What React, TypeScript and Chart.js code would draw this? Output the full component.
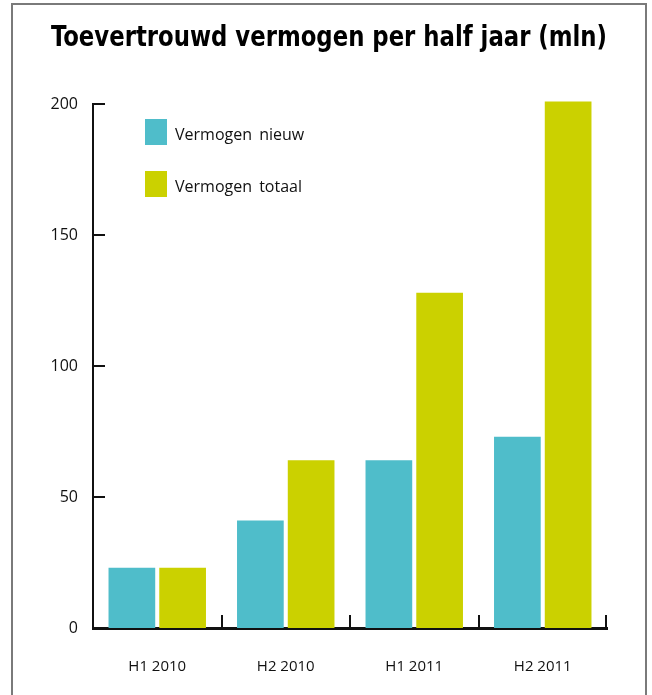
import React, { useEffect, useRef } from "react";
import { Chart, registerables } from "chart.js";

Chart.register(...registerables);

const categories = ["H1 2010", "H2 2010", "H1 2011", "H2 2011"];
const seriesNames = ["Vermogen nieuw", "Vermogen totaal"];
const vermogenNieuw = [23, 41, 64, 73];
const vermogenTotaal = [23, 64, 128, 201];
const yMin = 0;
const yMax = 200;
const yStep = 50;
const titleText = "Toevertrouwd vermogen per half jaar (mln)";

const colors = ["#4fbdca", "#cbd100"];

const axisDecor = {
  id: "axisDecor",
  afterDatasetsDraw(chart: any) {
    const { ctx, chartArea } = chart;
    const y = chart.scales.y;
    ctx.save();
    ctx.strokeStyle = "#111";
    ctx.lineWidth = 2;
    y.ticks.forEach((t: any) => {
      if (t.value === yMin) return;
      const py = Math.round(y.getPixelForValue(t.value));
      ctx.beginPath();
      ctx.moveTo(chartArea.left, py);
      ctx.lineTo(chartArea.left + 12, py);
      ctx.stroke();
    });
    const n = categories.length;
    const w = (chartArea.right - chartArea.left) / n;
    for (let i = 1; i <= n; i++) {
      const px = Math.round(chartArea.left + w * i) - (i === n ? 1 : 0);
      ctx.beginPath();
      ctx.moveTo(px, chartArea.bottom);
      ctx.lineTo(px, chartArea.bottom - 13);
      ctx.stroke();
    }
    ctx.font = "16px 'Open Sans'";
    ctx.textBaseline = "middle";
    ctx.textAlign = "left";
    (ctx as any).wordSpacing = "3px";
    chart.data.datasets.forEach((ds: any, i: number) => {
      const bx = chartArea.left + 52;
      const by = chartArea.top + 15 + i * 52;
      ctx.fillStyle = ds.backgroundColor;
      ctx.fillRect(bx, by, 22, 26);
      ctx.fillStyle = "#111";
      ctx.fillText(ds.label, bx + 30, by + 16);
    });
    ctx.restore();
  },
};

export default function App() {
  const ref = useRef<HTMLCanvasElement | null>(null);
  useEffect(() => {
    if (!ref.current) return;
    const chart = new Chart(ref.current, {
      type: "bar",
      data: {
        labels: categories,
        datasets: [
          {
            label: seriesNames[0],
            data: vermogenNieuw,
            backgroundColor: colors[0],
            barPercentage: 0.92,
            categoryPercentage: 0.79,
            clip: false as any,
          },
          {
            label: seriesNames[1],
            data: vermogenTotaal,
            backgroundColor: colors[1],
            barPercentage: 0.92,
            categoryPercentage: 0.79,
            clip: false as any,
          },
        ],
      },
      options: {
        animation: false,
        responsive: false,
        maintainAspectRatio: false,
        layout: { padding: { left: 51, right: 45, top: 0, bottom: 0 } },
        plugins: {
          legend: { display: false },
          tooltip: { enabled: false },
          title: {
            display: true,
            text: titleText,
            color: "#000",
            font: { family: "'Liberation Sans Narrow', 'DejaVu Sans Condensed'", weight: "bold", size: 29, lineHeight: 1.2 },
            padding: { top: 21, bottom: 48.2 },
          },
        },
        scales: {
          x: {
            grid: { display: false, drawTicks: false },
            border: { display: true, color: "#111", width: 3 },
            ticks: {
              color: "#111",
              font: { family: "'Open Sans'", size: 15 },
              padding: 30,
              maxRotation: 0,
            },
            afterFit(s: any) {
              s.height = 67;
            },
          },
          y: {
            min: yMin,
            max: yMax,
            grid: { display: false, drawTicks: false },
            border: { display: true, color: "#111", width: 2 },
            ticks: {
              stepSize: yStep,
              color: "#111",
              font: { family: "'Open Sans'", size: 16 },
              padding: 15,
            },
            afterFit(s: any) {
              s.width = 42;
            },
          },
        },
      },
      plugins: [axisDecor],
    });
    return () => chart.destroy();
  }, []);

  return (
    <div style={{ position: "absolute", left: 0, top: 0, width: 652, height: 695, overflow: "hidden", background: "#fff" }}>
      <div
        style={{
          position: "absolute",
          left: 11,
          top: 3,
          width: 636,
          height: 720,
          border: "2px solid #7a7a7a",
          boxSizing: "border-box",
        }}
      />
      <canvas ref={ref} width={652} height={695} style={{ position: "absolute", left: 0, top: 0 }} />
    </div>
  );
}
